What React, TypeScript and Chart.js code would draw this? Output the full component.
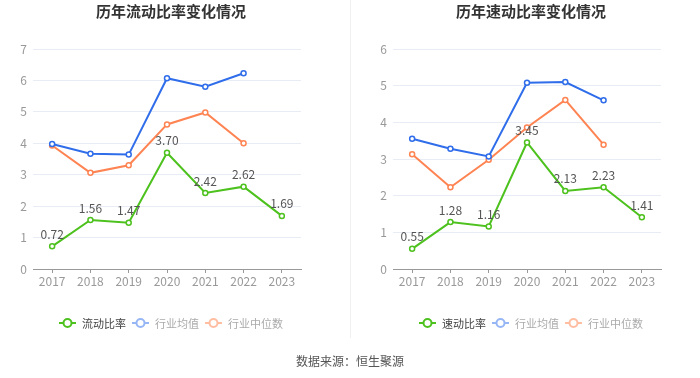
import React, { useEffect, useRef } from "react";
import { Chart, registerables } from "chart.js";

Chart.register(...registerables);

const years = ["2017", "2018", "2019", "2020", "2021", "2022", "2023"];

const currentRatio = [0.72, 1.56, 1.47, 3.7, 2.42, 2.62, 1.69];
const currentIndustryMean = [3.98, 3.67, 3.64, 6.07, 5.8, 6.23, null];
const currentIndustryMedian = [3.93, 3.06, 3.3, 4.6, 4.98, 4.0, null];

const quickRatio = [0.55, 1.28, 1.16, 3.45, 2.13, 2.23, 1.41];
const quickIndustryMean = [3.55, 3.28, 3.07, 5.08, 5.1, 4.6, null];
const quickIndustryMedian = [3.13, 2.23, 2.98, 3.86, 4.61, 3.39, null];

const GREEN = "#4dc11d";
const BLUE = "#2f6dea";
const ORANGE = "#ff8453";
const FONT = "'Noto Sans CJK SC', 'Noto Sans', sans-serif";

const labelPlugin = {
  id: "valueLabels",
  afterDatasetsDraw(chart: any) {
    const ctx = chart.ctx;
    const meta = chart.getDatasetMeta(0);
    const data = chart.data.datasets[0].data;
    ctx.save();
    ctx.font = `12px ${FONT}`;
    ctx.fillStyle = "#555";
    ctx.textAlign = "center";
    ctx.textBaseline = "middle";
    meta.data.forEach((pt: any, i: number) => {
      const v = data[i];
      if (v == null) return;
      ctx.fillText(Number(v).toFixed(2), pt.x, pt.y - 12);
    });
    ctx.restore();
  },
};

type Props = {
  main: (number | null)[];
  mean: (number | null)[];
  median: (number | null)[];
  yMax: number;
  axisWidth: number;
  padRight: number;
};

function LineChart({ main, mean, median, yMax, axisWidth, padRight }: Props) {
  const ref = useRef<HTMLCanvasElement>(null);
  useEffect(() => {
    if (!ref.current) return;
    const mk = (data: (number | null)[], color: string, order: number) => ({
      data,
      borderColor: color,
      backgroundColor: "#ffffff",
      pointBackgroundColor: "#ffffff",
      pointBorderColor: color,
      pointRadius: 2.5,
      pointBorderWidth: 1.5,
      borderWidth: 2,
      tension: 0,
      order,
    });
    const chart = new Chart(ref.current, {
      type: "line",
      data: {
        labels: years,
        datasets: [mk(main, GREEN, 0), mk(mean, BLUE, 1), mk(median, ORANGE, 2)],
      },
      options: {
        responsive: false,
        animation: false,
        layout: { padding: { left: 0, right: padRight, top: 49, bottom: 84 } },
        plugins: { legend: { display: false }, title: { display: false }, tooltip: { enabled: false } },
        scales: {
          x: {
            offset: true,
            afterFit: (s: any) => {
              s.height = 25;
            },
            grid: { drawOnChartArea: false, tickLength: 4, color: "#999", offset: false },
            border: { color: "#999" },
            ticks: { color: "#999", font: { size: 12, family: FONT }, padding: 1 },
          },
          y: {
            min: 0,
            max: yMax,
            afterFit: (s: any) => {
              s.width = axisWidth;
            },
            grid: { color: "#e8edf5", drawTicks: false },
            border: { display: false },
            ticks: { stepSize: 1, color: "#999", font: { size: 12, family: FONT }, padding: 6 },
          },
        },
      },
      plugins: [labelPlugin],
    } as any);
    return () => chart.destroy();
  }, []);
  return <canvas ref={ref} width={350} height={378} style={{ width: 350, height: 378, display: "block" }} />;
}

function Marker({ color }: { color: string }) {
  return (
    <svg width={17} height={10} style={{ display: "block" }}>
      <line x1={0} y1={5} x2={17} y2={5} stroke={color} strokeWidth={2} />
      <circle cx={8.5} cy={5} r={4} fill="#fff" stroke={color} strokeWidth={2} />
    </svg>
  );
}

function Legend({ center, first }: { center: number; first: string }) {
  const items = [
    { name: first, color: GREEN, text: "#444" },
    { name: "行业均值", color: "#97b6f5", text: "#aaa" },
    { name: "行业中位数", color: "#ffbda2", text: "#aaa" },
  ];
  return (
    <div
      style={{
        position: "absolute",
        top: 315,
        left: center - 175,
        width: 350,
        height: 16,
        display: "flex",
        justifyContent: "center",
        alignItems: "center",
        gap: 6,
        fontFamily: FONT,
        fontSize: 11,
      }}
    >
      {items.map((it) => (
        <div key={it.name} style={{ display: "flex", alignItems: "center" }}>
          <Marker color={it.color} />
          <span style={{ marginLeft: 6, color: it.text, lineHeight: "16px" }}>{it.name}</span>
        </div>
      ))}
    </div>
  );
}

export default function App() {
  const titleStyle = (center: number): React.CSSProperties => ({
    position: "absolute",
    top: 2,
    left: center - 175,
    width: 350,
    textAlign: "center",
    fontFamily: FONT,
    fontWeight: "bold",
    fontSize: 15,
    lineHeight: "18px",
    color: "#333",
  });
  return (
    <div style={{ position: "fixed", left: 0, top: 0, width: 700, height: 378, background: "#fff", overflow: "hidden" }}>
      <div style={{ position: "absolute", left: 0, top: 0 }}>
        <LineChart main={currentRatio} mean={currentIndustryMean} median={currentIndustryMedian} yMax={7} axisWidth={33} padRight={49} />
      </div>
      <div style={{ position: "absolute", left: 350, top: 0 }}>
        <LineChart main={quickRatio} mean={quickIndustryMean} median={quickIndustryMedian} yMax={6} axisWidth={43} padRight={39} />
      </div>
      <div style={{ position: "absolute", left: 350, top: 0, width: 1, height: 338, background: "#f0f0f0" }} />
      <div style={titleStyle(171)}>历年流动比率变化情况</div>
      <div style={titleStyle(531)}>历年速动比率变化情况</div>
      <Legend center={171} first="流动比率" />
      <Legend center={531} first="速动比率" />
      <div
        style={{
          position: "absolute",
          top: 352,
          left: 0,
          width: 700,
          textAlign: "center",
          fontFamily: FONT,
          fontSize: 12,
          lineHeight: "18px",
          color: "#555",
        }}
      >
        数据来源：恒生聚源
      </div>
    </div>
  );
}
